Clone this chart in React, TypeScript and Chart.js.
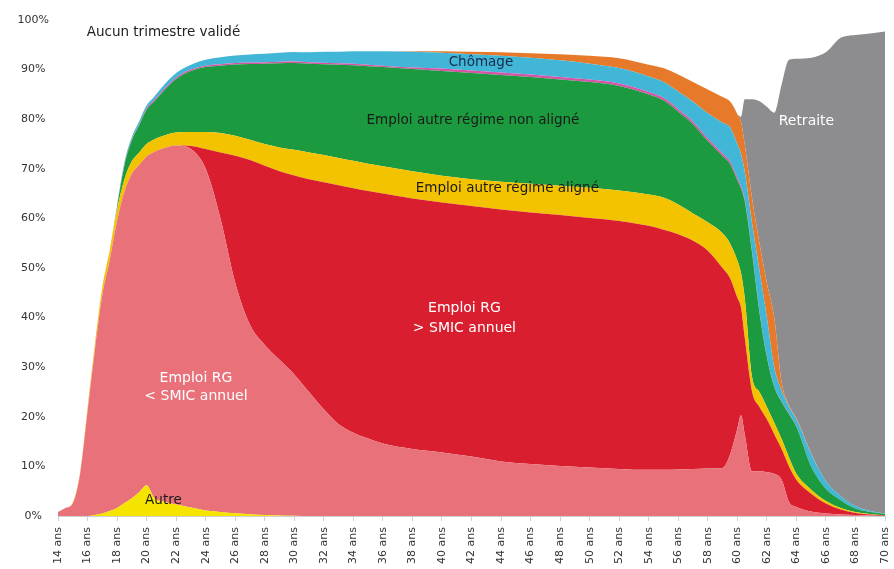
import React, { useEffect, useRef } from 'react';
import { Chart, registerables } from 'chart.js';

Chart.register(...registerables);

// Age axis (years)
const AGES = [14, 14.5, 15, 15.5, 16, 16.5, 17, 17.5, 18, 18.5, 19, 19.5, 20, 20.5, 21, 22, 23, 24, 25, 26, 27, 28, 29, 30, 31, 32, 33, 34, 35, 36, 38, 40, 42, 44, 46, 48, 50, 52, 54, 55, 56, 57, 58, 59, 59.5, 60, 60.25, 60.5, 61, 61.5, 62, 62.5, 63, 63.5, 64, 65, 66, 67, 68, 69, 70];

// Shares (%) of each situation, stacked bottom to top
const AUTRE = [0, 0, 0, 0, 0, 0.2, 0.5, 1.0, 1.6, 2.6, 3.6, 4.8, 6.2, 3.7, 3.0, 2.3, 1.7, 1.1, 0.8, 0.55, 0.35, 0.2, 0.1, 0.05, 0, 0, 0, 0, 0, 0, 0, 0, 0, 0, 0, 0, 0, 0, 0, 0, 0, 0, 0, 0, 0, 0, 0, 0, 0, 0, 0, 0, 0, 0, 0, 0, 0, 0, 0, 0, 0];
const RG_SOUS_SMIC = [0.8, 1.6, 2.5, 8.5, 21, 33.3, 44.0, 50.5, 57.9, 62.8, 65.4, 66.0, 66.3, 69.7, 71.0, 72.4, 72.3, 68.9, 59.2, 46.5, 38.2, 34.3, 31.4, 28.5, 25, 21.5, 18.5, 16.8, 15.6, 14.6, 13.5, 12.8, 12, 11, 10.5, 10.1, 9.8, 9.5, 9.3, 9.3, 9.4, 9.5, 9.6, 9.7, 12.3, 17.6, 20.3, 16.5, 9, 9, 8.8, 8.5, 7.3, 2.8, 1.8, 0.9, 0.5, 0.3, 0.2, 0.1, 0];
const RG_SUR_SMIC = [0, 0, 0, 0, 0, 0, 0, 0, 0, 0, 0, 0, 0, 0, 0, 0, 0.6, 4, 13.3, 25.6, 33.2, 36.1, 38, 40.1, 42.9, 45.8, 48.2, 49.3, 49.9, 50.4, 50.5, 50.4, 50.5, 50.8, 50.7, 50.6, 50.3, 50, 49.2, 48.4, 47.4, 46, 43.9, 40.3, 35.7, 26.4, 21.7, 19.5, 16, 13, 10.7, 8, 6.2, 7.2, 5.5, 3.6, 2, 1, 0.4, 0.2, 0.1];
const AUTRE_REGIME_ALIGNE = [0, 0, 0.2, 0.4, 0.8, 1.2, 1.6, 2.0, 2.3, 2.5, 2.5, 2.5, 2.5, 2.5, 2.5, 2.6, 2.8, 3.4, 3.9, 4.0, 4.1, 4.4, 4.8, 5.2, 5.4, 5.5, 5.5, 5.5, 5.5, 5.5, 5.5, 5.4, 5.4, 5.6, 5.8, 5.9, 6.1, 6.1, 6.3, 6.5, 6.0, 5.5, 5.7, 7, 7, 7.5, 7, 8, 3, 3, 2.5, 2.3, 2, 1.8, 1.2, 0.8, 0.5, 0.3, 0.2, 0.1, 0];
const AUTRE_REGIME_NON_ALIGNE = [0, 0, 0, 0, 0, 0, 0, 0, 0.5, 2.8, 4.2, 5.5, 6.9, 7.6, 8.7, 10.8, 12.3, 13.1, 13.6, 14.4, 15.3, 16.2, 17, 17.5, 17.9, 18.3, 18.8, 19.3, 19.7, 20, 20.6, 21.1, 21.4, 21.5, 21.5, 21.4, 21.3, 21.1, 20.2, 19.6, 18.7, 18, 16.4, 15.6, 16, 16.2, 17, 19.5, 25, 16, 10, 7.2, 7.5, 8.7, 9.5, 4.7, 2.5, 1.6, 0.7, 0.4, 0.3];
const MAGENTA = [0, 0, 0, 0, 0, 0, 0, 0, 0.1, 0.2, 0.2, 0.2, 0.3, 0.3, 0.3, 0.3, 0.3, 0.3, 0.3, 0.3, 0.3, 0.3, 0.3, 0.3, 0.3, 0.3, 0.3, 0.3, 0.3, 0.3, 0.3, 0.5, 0.5, 0.5, 0.5, 0.5, 0.5, 0.5, 0.5, 0.5, 0.5, 0.5, 0.5, 0.5, 0.5, 0.5, 0.5, 0.4, 0.3, 0.2, 0.1, 0.1, 0.1, 0.1, 0.1, 0, 0, 0, 0, 0, 0];
const CHOMAGE = [0, 0, 0, 0, 0, 0, 0, 0.1, 0.2, 0.4, 0.5, 0.6, 0.6, 0.7, 0.8, 0.9, 1.0, 1.2, 1.4, 1.5, 1.6, 1.7, 1.8, 1.9, 2.0, 2.2, 2.3, 2.5, 2.7, 2.9, 3.2, 3.2, 3.3, 3.4, 3.4, 3.4, 3.2, 3.1, 3.1, 3.2, 3.6, 4.0, 5.1, 6.2, 6.9, 6.8, 6.5, 5.6, 5.7, 8.3, 7.9, 3.9, 2.2, 1.4, 1.4, 2.5, 1.5, 0.8, 0.5, 0.2, 0.1];
const ORANGE = [0, 0, 0, 0, 0, 0, 0, 0, 0, 0, 0, 0, 0, 0, 0, 0, 0, 0, 0, 0, 0, 0, 0, 0, 0, 0, 0, 0, 0, 0, 0.1, 0.3, 0.5, 0.7, 0.9, 1.2, 1.6, 2.0, 2.4, 2.8, 3.4, 4.0, 4.8, 5.2, 5.2, 6, 6.5, 5.5, 5, 5.5, 7, 10, 1.7, 0.3, 0.2, 0.1, 0, 0, 0, 0, 0];
const RETRAITE = [0, 0, 0, 0, 0, 0, 0, 0, 0, 0, 0, 0, 0, 0, 0, 0, 0, 0, 0, 0, 0, 0, 0, 0, 0, 0, 0, 0, 0, 0, 0, 0, 0, 0, 0, 0, 0, 0, 0, 0, 0, 0, 0, 0, 0, 0, 1, 9, 20, 28.6, 35.5, 41.3, 60, 69.7, 72.5, 79.8, 86.5, 92.4, 95, 96.3, 97.2];

const SERIES_NAMES = ['Autre', 'Emploi RG < SMIC annuel', 'Emploi RG > SMIC annuel', 'Emploi autre régime aligné', 'Emploi autre régime non aligné', 'Autre situation', 'Chômage', 'Autre validation', 'Retraite'];
const SERIES_DATA = [AUTRE, RG_SOUS_SMIC, RG_SUR_SMIC, AUTRE_REGIME_ALIGNE, AUTRE_REGIME_NON_ALIGNE, MAGENTA, CHOMAGE, ORANGE, RETRAITE];
const SERIES_COLORS = ['#f4e400', '#e8717a', '#d91f2f', '#f3c300', '#1c9a3f', '#d455a8', '#41b6d6', '#e77a2a', '#8d8d8f'];

const X_TICKS = [14, 70, 2];
const Y_TICKS = [0, 100, 10];

const FONT = '"DejaVu Sans", sans-serif';

const ANNOTATIONS = [
  { text: 'Aucun trimestre validé', age: 21.14, pct: 97.4, color: '#222', size: 13.5 },
  { text: 'Chômage', age: 42.64, pct: 91.5, color: '#1a2a4a', size: 13.5 },
  { text: 'Emploi autre régime non aligné', age: 42.1, pct: 79.8, color: '#1a1a1a', size: 13.5 },
  { text: 'Emploi autre régime aligné', age: 44.43, pct: 66.1, color: '#1a1a1a', size: 13.5 },
  { text: 'Emploi RG', age: 41.52, pct: 41.9, color: '#ffffff', size: 14 },
  { text: '> SMIC annuel', age: 41.52, pct: 37.9, color: '#ffffff', size: 14 },
  { text: 'Emploi RG', age: 23.34, pct: 27.8, color: '#ffffff', size: 14 },
  { text: '< SMIC annuel', age: 23.34, pct: 24.2, color: '#ffffff', size: 14 },
  { text: 'Autre', age: 21.14, pct: 3.2, color: '#1a1a1a', size: 13.5 },
  { text: 'Retraite', age: 64.68, pct: 79.5, color: '#ffffff', size: 14 },
];

export default function App() {
  const ref = useRef<HTMLCanvasElement>(null);

  useEffect(() => {
    if (!ref.current) return;
    const datasets = SERIES_DATA.map((arr, i) => ({
      label: SERIES_NAMES[i],
      data: arr.map((v, j) => ({ x: AGES[j], y: v })),
      backgroundColor: SERIES_COLORS[i],
      borderColor: SERIES_COLORS[i],
      borderWidth: 0,
      pointRadius: 0,
      pointHoverRadius: 0,
      cubicInterpolationMode: 'monotone',
      fill: i === 0 ? 'origin' : '-1',
    }));

    const annotPlugin = {
      id: 'annot',
      afterDatasetsDraw(chart: any) {
        const { ctx, scales } = chart;
        ctx.save();
        ctx.textAlign = 'center';
        ctx.textBaseline = 'middle';
        for (const a of ANNOTATIONS) {
          ctx.font = `${a.size}px ${FONT}`;
          ctx.fillStyle = a.color;
          ctx.fillText(a.text, scales.x.getPixelForValue(a.age), scales.y.getPixelForValue(a.pct));
        }
        ctx.restore();
      },
    };

    const chart = new Chart(ref.current, {
      type: 'line',
      data: { datasets } as any,
      options: {
        animation: false,
        responsive: false,
        layout: { padding: { left: 8, right: 0, top: 20, bottom: 0 } },
        plugins: { legend: { display: false }, tooltip: { enabled: false } },
        scales: {
          x: {
            type: 'linear',
            min: X_TICKS[0],
            max: X_TICKS[1],
            grid: { drawOnChartArea: false, drawTicks: true, tickLength: 5, color: '#d0d0d0' },
            border: { display: true, color: '#d0d0d0' },
            ticks: {
              stepSize: X_TICKS[2],
              autoSkip: false,
              minRotation: 90,
              maxRotation: 90,
              padding: 6,
              color: '#333',
              font: { family: FONT, size: 11 },
              callback: (v: any) => `${v} ans`,
            },
            afterFit: (s: any) => { s.height = 53; s.paddingRight = 9; },
          },
          y: {
            stacked: true,
            min: Y_TICKS[0],
            max: Y_TICKS[1],
            grid: { display: false, drawTicks: false },
            border: { display: false },
            ticks: {
              stepSize: Y_TICKS[2],
              crossAlign: 'center',
              padding: 9,
              color: '#333',
              font: { family: FONT, size: 11 },
              callback: (v: any) => `${v}%`,
            },
            afterFit: (s: any) => { s.width = 50; },
          },
        },
      } as any,
      plugins: [annotPlugin],
    });
    return () => chart.destroy();
  }, []);

  return (
    <div style={{ position: 'fixed', left: 0, top: 0, width: 894, height: 569, background: '#fff' }}>
      <canvas ref={ref} width={894} height={569} style={{ width: 894, height: 569, display: 'block' }} />
    </div>
  );
}
